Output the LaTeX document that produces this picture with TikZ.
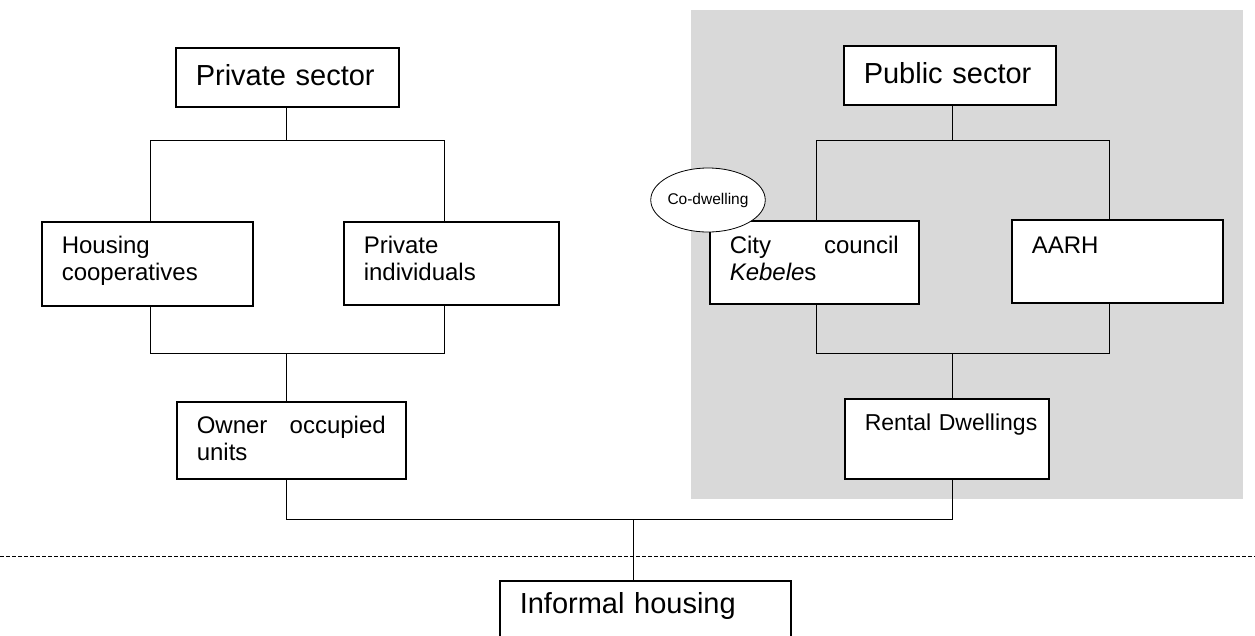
\documentclass[tikz,border=0pt]{standalone}
\usepackage{fontspec}
\setmainfont{Liberation Sans}
\usetikzlibrary{shapes.geometric}
\definecolor{sectorgray}{HTML}{D9D9D9}

\begin{document}
\begin{tikzpicture}[x=1pt,y=-1pt,line width=0.8pt]
  \tikzstyle{unit}=[draw,line width=1.5pt,fill=white,anchor=north west,inner xsep=20pt,inner ysep=0pt,align=left,font=\fontsize{24}{27}\selectfont]
  \tikzstyle{sector}=[unit,font=\fontsize{29}{33}\selectfont]
  \tikzstyle{note}=[ellipse,draw,fill=white,line width=0.8pt,minimum width=102pt,minimum height=64pt,inner sep=0pt,font=\fontsize{15.5}{18}\selectfont]
  \useasboundingbox (0,0) rectangle (1255,635);

  % public side
  \fill[sectorgray] (691,10) rectangle (1243,499);

  \node[sector,text width=183pt,text height=38pt,text depth=21pt] (priv) at (175,47) {Private sector};
  \node[sector,text width=172pt,text height=38pt,text depth=21pt] (pub) at (843,45) {Public sector};

  \node[unit,text width=171pt,text height=32pt,text depth=52pt] (hcoop) at (41,221) {Housing\\cooperatives};
  \node[unit,text width=175pt,text height=32pt,text depth=51pt] (pind) at (343,221) {Private\\individuals};
  \node[unit,text width=169pt,text height=33pt,text depth=50pt] (city) at (709,220) {City\hfill council\\\textit{Kebele}s};
  \node[unit,text width=171pt,text height=34pt,text depth=49pt] (aarh) at (1011,219) {AARH};
  \node[note] (codw) at (708,200) {Co-dwelling};

  \node[unit,text width=189pt,text height=32pt,text depth=45pt] (own) at (176,401) {Owner\hfill occupied\\units};
  \node[unit,font=\fontsize{23}{26}\selectfont,text width=164pt,text height=32pt,text depth=48pt] (rent) at (844,398) {\mbox{Rental Dwellings}};

  \node[sector,text width=251pt,text height=33pt,text depth=60pt] (inf) at (499,580) {Informal housing};

  % junctions
  \foreach \name/\x/\y in {priv-j/286/140, hcoop-j/150/140, pind-j/444/140,
                           own-j/286/353, hcoop-k/150/353, pind-k/444/353,
                           pub-j/952/140, city-j/816/140, aarh-j/1109/140,
                           rent-j/952/353, city-k/816/353, aarh-k/1109/353,
                           own-k/286/519, rent-k/952/519, inf-j/633/519}
    \coordinate (\name) at (\x,\y);

  \draw (priv.south -| priv-j) -- (priv-j);
  \draw (hcoop.north -| hcoop-j) -- (hcoop-j) -- (pind-j) -- (pind.north -| pind-j);
  \draw (hcoop.south -| hcoop-k) -- (hcoop-k) -- (pind-k) -- (pind.south -| pind-k);
  \draw (own-j) -- (own.north -| own-j);

  \draw (pub.south -| pub-j) -- (pub-j);
  \draw (city.north -| city-j) -- (city-j) -- (aarh-j) -- (aarh.north -| aarh-j);
  \draw (city.south -| city-k) -- (city-k) -- (aarh-k) -- (aarh.south -| aarh-k);
  \draw (rent-j) -- (rent.north -| rent-j);

  \draw (own.south -| own-k) -- (own-k) -- (rent-k) -- (rent.south -| rent-k);
  \draw (inf-j) -- (inf.north -| inf-j);

  % formal / informal divide
  \draw[dash pattern=on 4pt off 2pt] (0,556) -- (1255,556);
\end{tikzpicture}
\end{document}
